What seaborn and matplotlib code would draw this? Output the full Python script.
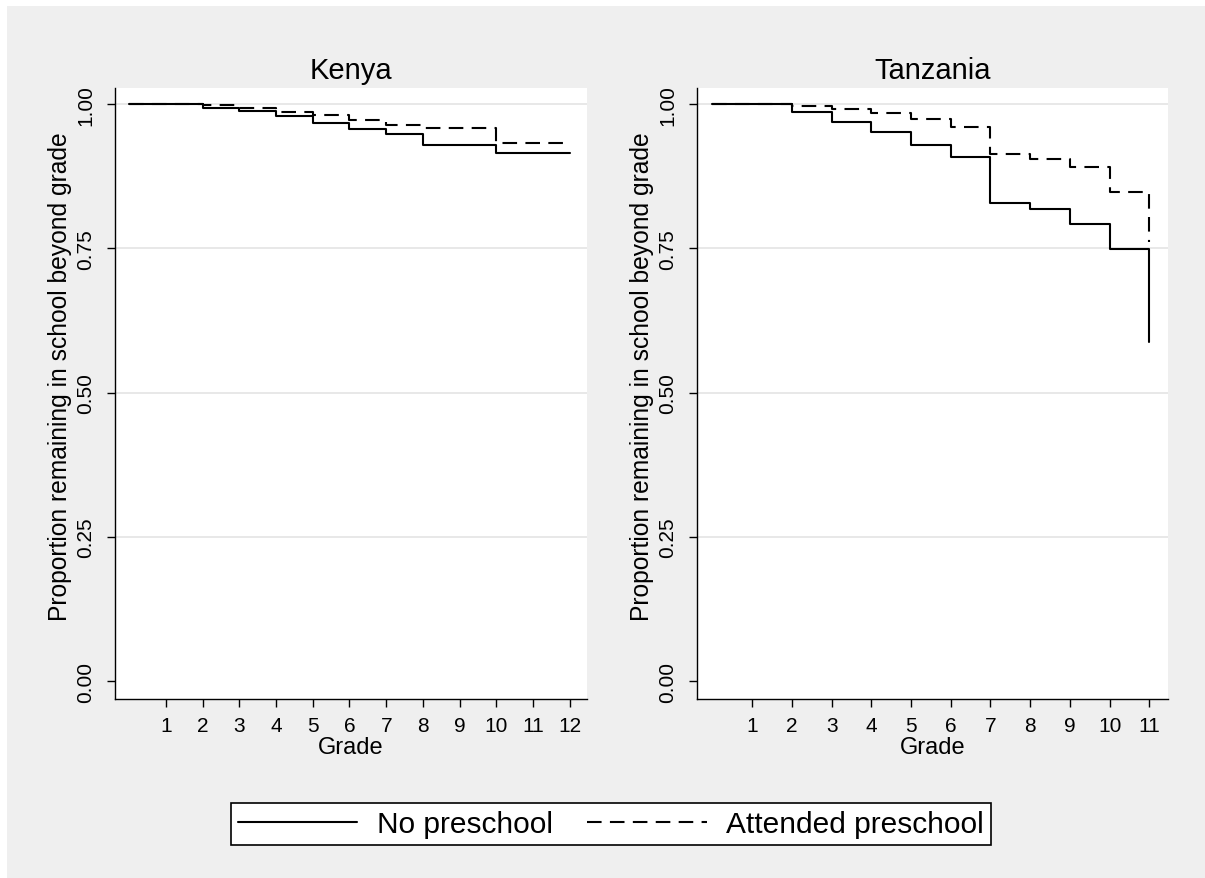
import numpy as np
import pandas as pd
import matplotlib
matplotlib.use("Agg")
import matplotlib.pyplot as plt
import seaborn as sns

# Kaplan-Meier style step values (value from each grade on)
groups = ["No preschool", "Attended preschool"]

kenya_grades = list(range(0, 13))
kenya_no_pre = [1.0, 1.0, 0.993, 0.988, 0.980, 0.968, 0.957, 0.948, 0.929, 0.929, 0.915, 0.915, 0.915]
kenya_pre = [1.0, 1.0, 0.998, 0.994, 0.987, 0.981, 0.972, 0.964, 0.958, 0.958, 0.933, 0.933, 0.933]

tz_grades = list(range(0, 12))
tz_no_pre = [1.0, 1.0, 0.987, 0.970, 0.951, 0.930, 0.909, 0.829, 0.819, 0.793, 0.749, 0.587]
tz_pre = [1.0, 1.0, 0.997, 0.991, 0.984, 0.975, 0.960, 0.914, 0.905, 0.891, 0.848, 0.762]

y_ticks = [0.0, 0.25, 0.5, 0.75, 1.0]
y_tick_labels = ["0.00", "0.25", "0.50", "0.75", "1.00"]


def long_df(grades, no_pre, pre):
    return pd.DataFrame({
        "grade": grades + grades,
        "prop": no_pre + pre,
        "group": [groups[0]] * len(grades) + [groups[1]] * len(grades),
    })


sns.set_theme(style="white")
plt.rcParams["font.family"] = ["Liberation Sans", "DejaVu Sans"]
plt.rcParams["text.color"] = "black"
plt.rcParams["axes.labelcolor"] = "black"
plt.rcParams["xtick.color"] = "black"
plt.rcParams["ytick.color"] = "black"

fig = plt.figure(figsize=(12.05, 8.79), dpi=100, facecolor="#efefef")
# thin white strips at top and left, as in the reference export
fig.patches.append(plt.Rectangle((0, 1 - 7 / 879), 1, 7 / 879, transform=fig.transFigure,
                                 facecolor="white", edgecolor="none", zorder=-10))
fig.patches.append(plt.Rectangle((0, 0), 7 / 1205, 1, transform=fig.transFigure,
                                 facecolor="white", edgecolor="none", zorder=-10))

panels = [
    ("Kenya", long_df(kenya_grades, kenya_no_pre, kenya_pre), 12, [0.0954, 0.2036, 0.3917, 0.6951]),
    ("Tanzania", long_df(tz_grades, tz_no_pre, tz_pre), 11, [0.5784, 0.2036, 0.3909, 0.6951]),
]

dash_map = {groups[0]: "", groups[1]: (7, 4)}
axes = []
for title, df, gmax, rect in panels:
    ax = fig.add_axes(rect)
    ax.set_facecolor("white")
    ax.yaxis.grid(True, color="#e4e4e4", lw=1.2)
    ax.set_axisbelow(True)
    sns.lineplot(data=df, x="grade", y="prop", style="group", style_order=groups,
                 dashes=dash_map, color="black", lw=1.5, drawstyle="steps-post",
                 estimator=None, sort=False, legend=False, ax=ax)
    ax.set_xlim(-0.39, gmax + 0.47)
    ax.set_ylim(-0.031, 1.028)
    ax.set_xticks(range(1, gmax + 1))
    ax.set_yticks(y_ticks)
    ax.set_yticklabels(y_tick_labels, rotation=90, va="center")
    # no gridline at 0
    ax.get_ygridlines()[0].set_visible(False)
    ax.tick_params(axis="both", direction="out", length=6, width=1, color="black",
                   labelsize=15, bottom=True, left=True)
    ax.tick_params(axis="y", pad=8)
    ax.tick_params(axis="x", pad=6)
    for side in ["top", "right"]:
        ax.spines[side].set_visible(False)
    for side in ["left", "bottom"]:
        ax.spines[side].set_color("black")
        ax.spines[side].set_linewidth(1)
    ax.set_xlabel("Grade", fontsize=17, labelpad=1)
    ax.set_ylabel("Proportion remaining in school beyond grade", fontsize=17.7, labelpad=3)
    ax.yaxis.label.set_y(0.53)
    ax.set_title(title, fontsize=21, pad=7)
    axes.append(ax)

handles = axes[0].lines[-2:]
leg = fig.legend(handles, groups, loc="center", bbox_to_anchor=(0.507, 0.0614), ncol=2,
                 fontsize=21.5, frameon=True, fancybox=False, edgecolor="black",
                 handlelength=4.0, handletextpad=0.65, columnspacing=1.15,
                 borderpad=0.25, borderaxespad=0)
leg.get_frame().set_linewidth(1.2)
leg.get_frame().set_facecolor("white")
leg.get_frame().set_alpha(1)

fig.savefig("out.png", dpi=100, facecolor=fig.get_facecolor())
